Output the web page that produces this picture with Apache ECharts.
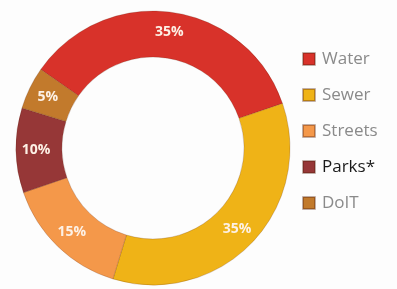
<!DOCTYPE html>
<html>
<head>
<meta charset="utf-8">
<script src="https://cdn.jsdelivr.net/npm/echarts@6/dist/echarts.min.js"></script>
<style>
  html, body { margin: 0; padding: 0; background: #fdfdfd; }
  #chart { width: 397px; height: 289px; }
</style>
</head>
<body>
<div id="chart"></div>
<script>
const categories = ["Water", "Sewer", "Streets", "Parks*", "DoIT"];
const shares = [35, 35, 15, 10, 5];
const colors = ["#d8322a", "#efb317", "#f4984a", "#963737", "#c27a2c"];

const myChart = echarts.init(document.getElementById("chart"));

const option = {
  backgroundColor: "#fdfdfd",
  color: colors,
  legend: {
    orient: "vertical",
    left: 302,
    top: 48,
    padding: 0,
    icon: "rect",
    itemWidth: 12,
    itemHeight: 12,
    itemGap: 14,
    data: categories.map((name) => ({
      name: name,
      textStyle: { color: name === "Parks*" ? "#1a1a1a" : "#8a8a8a" },
    })),
    textStyle: {
      fontFamily: "Open Sans",
      fontSize: 17,
      lineHeight: 22,
      padding: [0, 0, 0, 2],
    },
  },
  series: [
    {
      type: "pie",
      center: [153, 148],
      radius: [91, 137],
      startAngle: 145,
      clockwise: true,
      avoidLabelOverlap: false,
      itemStyle: {
        borderColor: "rgba(80,30,10,0.35)",
        borderWidth: 0.6,
      },
      label: {
        position: "inside",
        formatter: "{c}%",
        color: "#fdf1e6",
        fontFamily: "Open Sans",
        fontWeight: "bold",
        fontSize: 14,
      },
      labelLine: { show: false },
      emphasis: { disabled: true },
      data: categories.map((name, i) => ({ name: name, value: shares[i] })),
    },
  ],
};

myChart.setOption(option);
</script>
</body>
</html>
